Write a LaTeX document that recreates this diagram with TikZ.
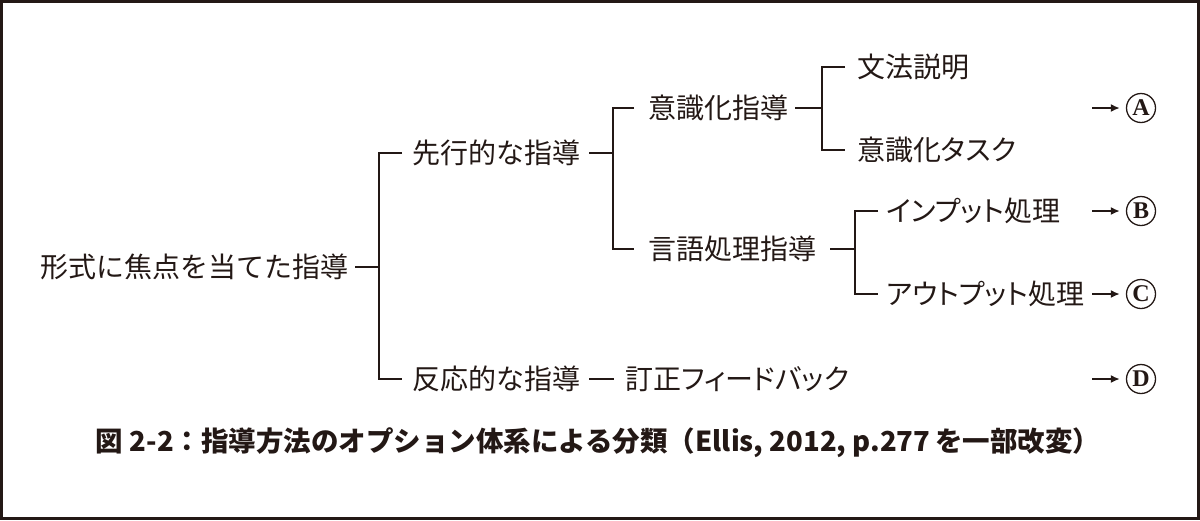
\documentclass[tikz,border=0pt]{standalone}
\usepackage{fontspec}
\newfontfamily\jp{Noto Sans CJK JP}
\newfontfamily\jpk{Noto Sans CJK JP}[RawFeature=+palt]
\newfontfamily\lser{Liberation Serif}
\usetikzlibrary{arrows.meta,calc}
\definecolor{ink}{HTML}{231815}
\tikzset{
  lbl/.style={anchor=west, inner sep=0pt, font=\jp\fontsize{28}{28}\selectfont, text=ink, text height=24.6pt, text depth=3.4pt},
  lblk/.style={lbl, font=\jpk\fontsize{28}{28}\selectfont},
  ln/.style={draw=ink, line width=2pt},
  arr/.style={draw=ink, line width=2pt, -{Latex[length=9pt,width=8pt]}},
  circ/.style={circle, draw=ink, line width=1.3pt, minimum size=29pt, inner sep=0pt, text=ink, font=\lser\bfseries\fontsize{24}{24}\selectfont},
  captxt/.style={inner sep=0pt, font=\jp\bfseries\fontsize{27.5}{27.5}\selectfont, text=ink}
}
\begin{document}
\begin{tikzpicture}[x=1pt,y=-1pt]
\useasboundingbox (0,0) rectangle (1200,520);
\draw[draw=ink, line width=3pt] (1.5,1.5) rectangle (1198.5,518.5);

% nodes
\node[lbl] (root) at (40,267) {形式に焦点を当てた指導};
\node[lbl] (sen) at (412,153) {先行的な指導};
\node[lbl] (han) at (412,379) {反応的な指導};
\node[lbl] (ish) at (648,108) {意識化指導};
\node[lbl] (gen) at (648,249) {言語処理指導};
\node[lbl] (bun) at (857,67) {文法説明};
\node[lblk] (tas) at (857,150) {意識化タスク};
\node[lblk] (inp) at (886,211) {インプット処理};
\node[lblk] (out) at (886,294) {アウトプット処理};
\node[lblk] (tei) at (625,379) {訂正フィードバック};

\node[circ] (A) at (1141,108) {A};
\node[circ] (B) at (1141,211) {B};
\node[circ] (C) at (1141,294) {C};
\node[circ] (D) at (1141,379) {D};

% junctions
\coordinate (j1) at (379,267);
\coordinate (j2) at (613,153);
\coordinate (j3) at (822,108);
\coordinate (j4) at (855,249);

% tree lines
\draw[ln] (355,267) -- (j1);
\draw[ln] ([xshift=-10pt]sen.west) -| (j1) |- ([xshift=-10pt]han.west);
\draw[ln] (589,153) -- (j2);
\draw[ln] ([xshift=-14pt]ish.west) -| (j2) |- ([xshift=-14pt]gen.west);
\draw[ln] (795,108) -- (j3);
\draw[ln] ([xshift=-12pt]bun.west) -| (j3) |- ([xshift=-12pt]tas.west);
\draw[ln] (830,249) -- (j4);
\draw[ln] ([xshift=-8pt]inp.west) -| (j4) |- ([xshift=-8pt]out.west);
\draw[ln] (589,379) -- (614,379);

% arrows
\coordinate (sa) at (1092,108);
\coordinate (sb) at (1092,211);
\coordinate (sc) at (1092,294);
\coordinate (sd) at (1092,379);
\draw[arr] (sa) -- ([xshift=-6pt]A.west);
\draw[arr] (sb) -- ([xshift=-6pt]B.west);
\draw[arr] (sc) -- ([xshift=-6pt]C.west);
\draw[arr] (sd) -- ([xshift=-6pt]D.west);

% caption
\node[captxt] (caption) at (598,443) {図 2-2：指導方法のオプション体系による分類（Ellis, 2012, p.277\,を一部改変）};
\end{tikzpicture}
\end{document}
